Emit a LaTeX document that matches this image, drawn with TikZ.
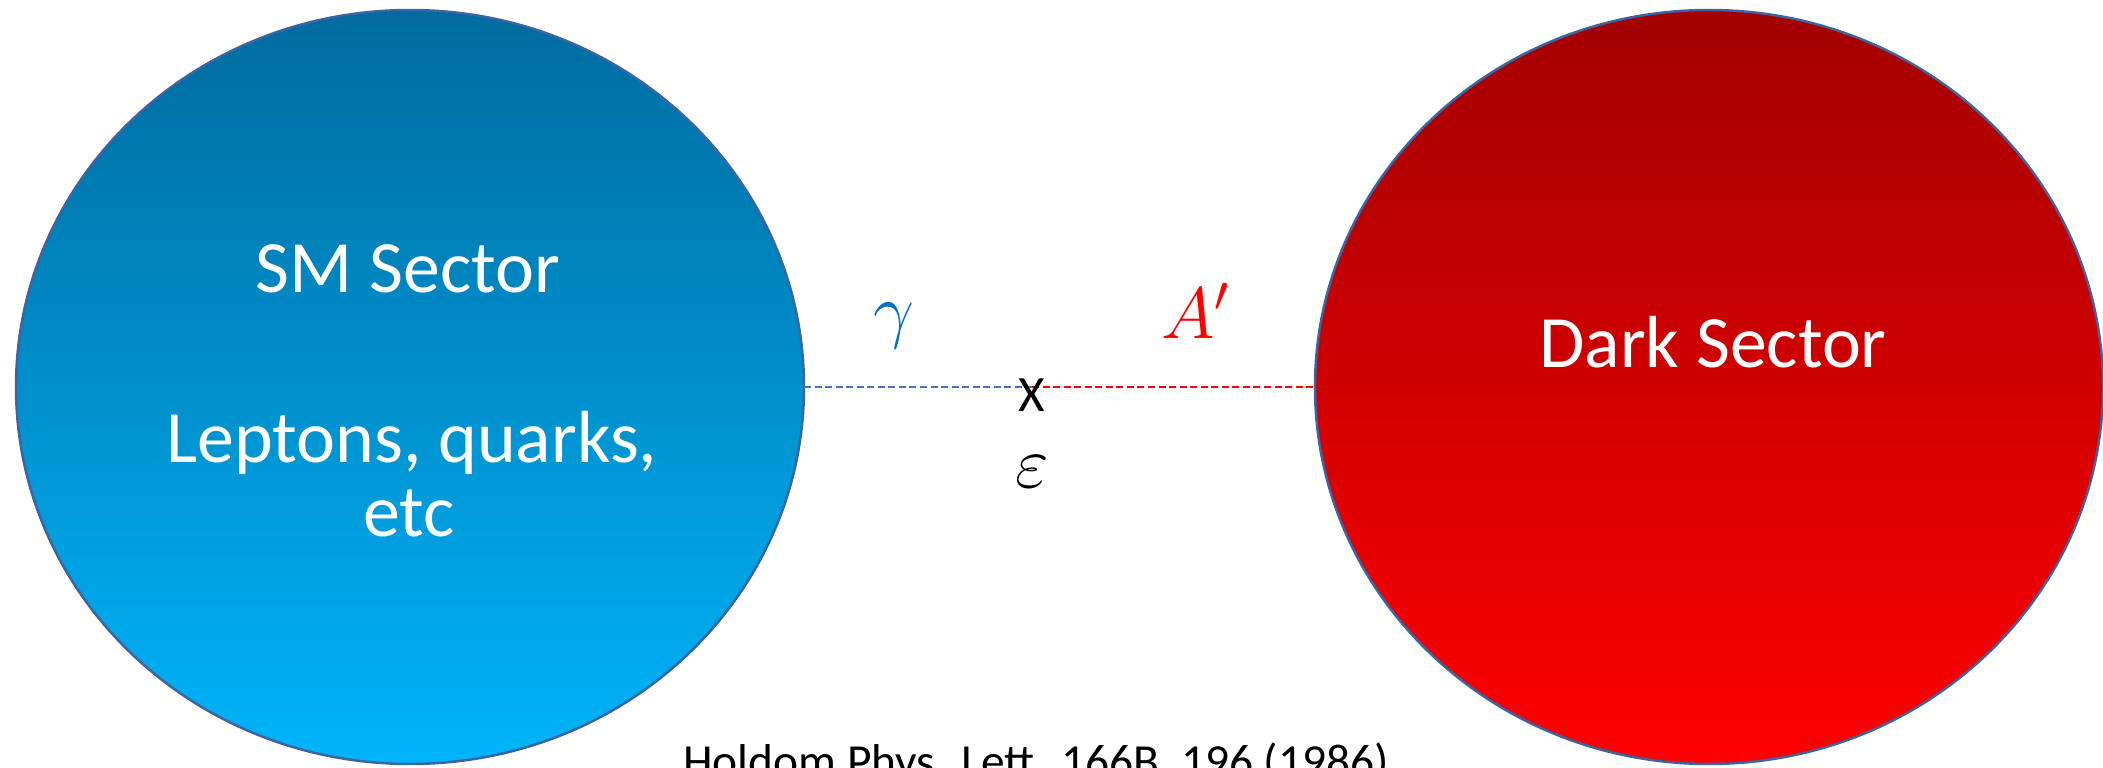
\documentclass[tikz,border=0pt]{standalone}
\usepackage{fontspec}
\setmainfont{Carlito}
\usetikzlibrary{shapes.geometric}

\definecolor{smtop}{HTML}{006B9E}
\definecolor{smbot}{HTML}{00B4FA}
\definecolor{dstop}{HTML}{A20000}
\definecolor{dsbot}{HTML}{FF0000}
\definecolor{rimblue}{HTML}{3C64A0}
\definecolor{gammablue}{HTML}{0070C0}
\definecolor{dashblue}{HTML}{4472C4}

\tikzset{
  sector/.style={ellipse, draw=rimblue, line width=0.7pt, inner sep=0pt, outer sep=0pt,
    minimum width=7.88cm, minimum height=7.54cm},
  lbl/.style={anchor=base, inner sep=0pt, font=\fontsize{21}{25}\selectfont},
  mixline/.style={line width=0.45pt, dash pattern=on 2pt off 1pt}
}

\begin{document}
\begin{tikzpicture}
\useasboundingbox (0,0) rectangle (21.03,7.67);
\coordinate (M) at (10.32,3.80);

\node[sector, top color=smtop, bottom color=smbot] (SM) at (4.10,3.80) {};
\node[sector, top color=dstop, bottom color=dsbot] (DS) at (17.09,3.80) {};

\draw[mixline, dashblue] (SM.east) -- (M);
\draw[mixline, red] (M) -- (DS.west);

\node[lbl, text=white] (smname) at (4.08,4.75) {SM Sector};
\node[lbl, text=white] (smparts) at (4.12,3.05) {Leptons, quarks,};
\node[lbl, text=white] (smetc) at (4.09,2.31) {etc};
\node[lbl, text=white] (dsname) at (17.13,4.00) {Dark Sector};

\node[lbl, text=gammablue] (gam) at (8.94,4.33) {$\gamma$};
\node[lbl, text=red] (aprime) at (11.96,4.29) {$A'$};
\node[lbl, font=\fontsize{14.5}{17}\selectfont] (cross) at (10.32,3.56) {X};
\node[lbl] (eps) at (10.32,2.80) {$\varepsilon$};

\node[anchor=base, inner sep=0pt, font=\fontsize{13.5}{16}\selectfont] (ref) at (10.36,-0.10)
  {Holdom Phys. Lett. 166B, 196 (1986)};
\end{tikzpicture}
\end{document}
